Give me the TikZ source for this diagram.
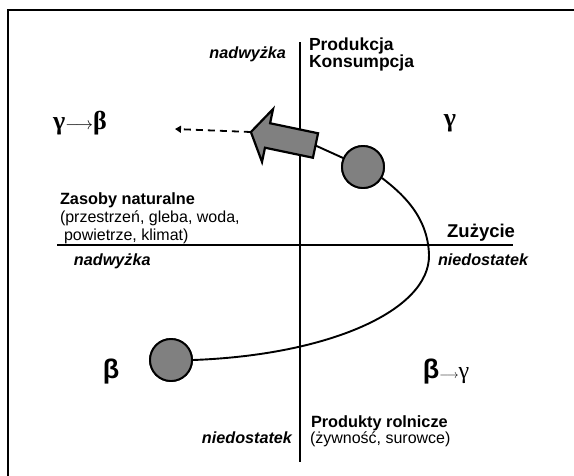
\documentclass[tikz,border=0pt]{standalone}
\usepackage{fontspec}
\setmainfont{Liberation Sans}
\newfontfamily\grserif{Liberation Serif}
\usetikzlibrary{arrows.meta}
\definecolor{ballgray}{HTML}{808080}
\tikzset{
  frameline/.style={line width=1.5pt},
  axis/.style={line width=2pt},
  haxis/.style={line width=2.6pt},
  curveline/.style={line width=1.9pt},
  ball/.style={circle, draw, line width=1.9pt, fill=ballgray, minimum size=42pt, inner sep=0pt},
  fatarrow/.style={draw, line width=2.2pt, fill=ballgray},
  dashline/.style={line width=1.8pt, dash pattern=on 7pt off 5pt, -{Triangle[length=6pt,width=7pt]}},
  txt/.style={inner sep=0pt, outer sep=0pt},
  lblb/.style={txt, font=\fontsize{17.5}{19}\selectfont\bfseries},
  lblbm/.style={txt, font=\fontsize{16.3}{19}\selectfont\bfseries},
  lblbig/.style={txt, font=\fontsize{18.5}{21}\selectfont\bfseries},
  lbli/.style={txt, font=\fontsize{16.2}{19}\selectfont\bfseries\itshape},
  lblr/.style={txt, font=\fontsize{16}{19}\selectfont},
  greek/.style={txt, font=\fontsize{26}{28}\selectfont\grserif\bfseries},
  betasans/.style={txt, font=\fontsize{27}{30}\selectfont\bfseries},
}
\begin{document}
\begin{tikzpicture}[x=1pt,y=-1pt]
\useasboundingbox (0,0) rectangle (574,475);
\fill[white] (0,0) rectangle (574,475);
% frame (only top and left visible)
\coordinate (fbl) at (8,476);
\coordinate (ftl) at (8,10);
\coordinate (ftr) at (575,10);
\draw[frameline] (fbl) -- (ftl) -- (ftr);
% axes
\coordinate (vtop) at (300,42);
\coordinate (vbot) at (300,462);
\coordinate (hl) at (57,245);
\coordinate (hr) at (513,245);
\draw[axis] (vtop) -- (vbot);
\draw[haxis] (hl) -- (hr);
% circles
\node[ball] (c1) at (363,167) {};
\node[ball] (c2) at (171,360) {};
% fat arrow reference points
\begin{scope}[shift={(315.5,145.5)}, rotate=-11.8]
  \coordinate (tail) at (0,0);
  \coordinate (tip) at (-66,0);
\end{scope}
% curve
\coordinate (turn) at (429,255);
\draw[curveline] (c2.east) .. controls (330,355) and (430,310) .. (turn)
  .. controls (428,215) and (400,192) .. (c1.-30);
\draw[curveline] (tail) -- (c1);
\node[ball] at (c1) {};
\node[ball] at (c2) {};
\begin{scope}[shift={(315.5,145.5)}, rotate=-11.8]
  \draw[fatarrow] (0,12.5) -- (-49,12.5) -- (-49,27) -- (tip) -- (-49,-27) -- (-49,-12.5) -- (0,-12.5) -- cycle;
\end{scope}
\coordinate (dend) at (175,129);
\draw[dashline] (tip) -- (dend);
% texts
\node[lblb, anchor=base west] (prod) at (309,50) {Produkcja};
\node[lblb, anchor=base west] (kons) at (309,67.5) {Konsumpcja};
\node[lbli, anchor=base east] (nadtop) at (286,58) {nadwyżka};
\node[greek] (gb) at (80,123) {γ{\normalfont\fontsize{16}{18}\selectfont$\longrightarrow$}β};
\node[greek] (g) at (450,123) {γ};
\node[lblbm, anchor=base west] (zas) at (60,204) {Zasoby naturalne};
\node[lblr, anchor=base west] (zas2) at (60,222) {(przestrzeń, gleba, woda,};
\node[lblr, anchor=base west] (zas3) at (64,240) {powietrze, klimat)};
\node[lbli, anchor=base west] (nadl) at (74,265) {nadwyżka};
\node[lblbig, anchor=base east] (zuz) at (515,237) {Zużycie};
\node[lbli, anchor=base west] (nied) at (438,265) {niedostatek};
\node[betasans] (b) at (111,372) {β};
\node[txt] (bg) at (446,372) {{\fontsize{27}{30}\selectfont\bfseries β}{\fontsize{13}{15}\selectfont$\longrightarrow$}{\fontsize{24}{26}\selectfont\grserif γ}};
\node[lblbm, anchor=base west] (prodr) at (311,427) {Produkty rolnicze};
\node[lblr, anchor=base west] (zyw) at (310,443) {(żywność, surowce)};
\node[lbli, anchor=base east] (niedb) at (292,443) {niedostatek};
\end{tikzpicture}
\end{document}
